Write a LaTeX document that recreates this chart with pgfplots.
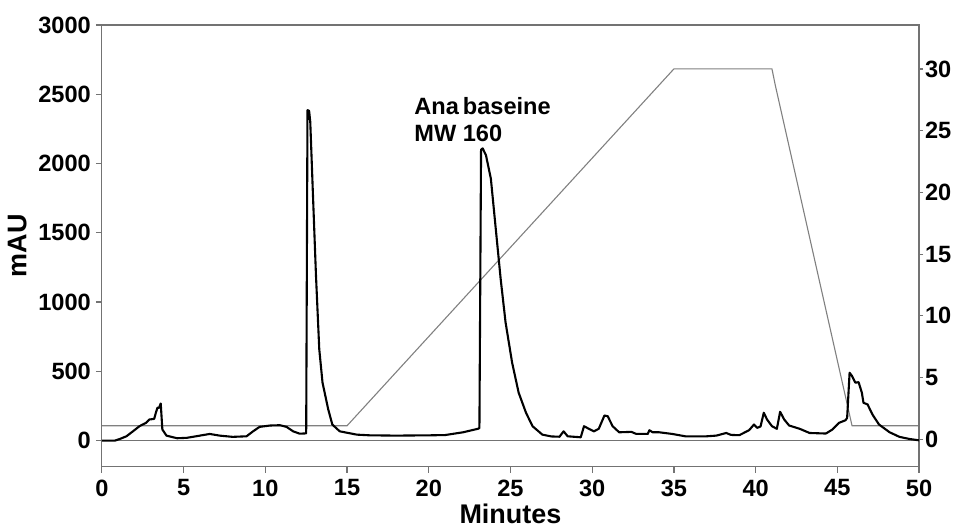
\documentclass[border=0pt]{standalone}
\usepackage{pgfplots}
\pgfplotsset{compat=1.18}
\usepackage{fontspec}
\setmainfont{Liberation Sans}
\definecolor{frame}{gray}{0.45}
\definecolor{grad}{gray}{0.5}
\begin{document}
\begin{tikzpicture}
\pgfplotsset{
  every axis/.append style={
    scale only axis, width=409pt, height=221pt,
    xmin=0, xmax=50,
    axis line style={frame, line width=0.6pt},
    major tick style={frame, line width=0.6pt},
    major tick length=3pt,
    tick align=outside,
    tick label style={font=\fontsize{11.8}{13}\selectfont\bfseries},
    /pgf/number format/assume math mode=true,
    /pgf/number format/set thousands separator={},
  }
}
% gradient (right axis)
\begin{axis}[
    axis x line=none,
    axis y line*=right,
    ymin=-2.2, ymax=33.56,
    ytick={0,5,...,30},
    major tick length=2pt,
    yticklabel style={xshift=-2.5pt},
]
\addplot[grad, line width=0.55pt] coordinates {
  (0,1.1) (15,1.1) (35,30) (41,30) (41.2,28.7) (45.9,1.1) (50,1.1)
};
\end{axis}
% chromatogram (left axis)
\begin{axis}[
    name=ax,
    ymin=-187, ymax=3000,
    ytick={0,500,...,3000},
    xtick={0,5,...,50},
    xtick pos=bottom, ytick pos=left,
    xlabel={Minutes},
    ylabel={mAU},
    label style={font=\fontsize{13.5}{15}\selectfont\bfseries},
    xlabel style={yshift=3pt},
    ylabel style={yshift=-1pt},
    yticklabel style={xshift=1pt},
    clip=false,
]
\addplot[frame, line width=0.5pt] coordinates {(0,0) (50,0)};
\addplot[black, line width=1.05pt, line join=round] coordinates {
  (0,0) (0.8,0) (1.1,12) (1.5,31) (1.9,67) (2.3,104) (2.7,128) (2.9,152)
  (3.2,157) (3.3,200) (3.4,237) (3.5,237) (3.6,268) (3.7,80) (3.95,36)
  (4.6,17) (5.2,20) (6.0,36) (6.6,48) (7.2,36) (8.0,27) (8.85,31) (9.25,67)
  (9.65,99) (10.3,109) (10.9,111) (11.3,99) (11.7,67) (12.1,50) (12.5,52)
  (12.58,2385) (12.68,2380) (12.75,2300) (12.9,1819) (13.1,1190) (13.3,660)
  (13.5,418) (13.85,225) (14.1,116) (14.55,67) (15.6,43) (16.4,38) (18,36)
  (20,38) (21,40) (22.1,60) (23.0,85) (23.1,90) (23.2,2100) (23.3,2109)
  (23.5,2060) (23.8,1891) (24.1,1529) (24.4,1167) (24.7,853) (25.1,563)
  (25.5,346) (25.95,201) (26.35,104) (26.95,43) (27.5,30) (28.0,28)
  (28.25,67) (28.5,31) (29.3,24) (29.5,104) (29.8,85) (30.1,67) (30.4,85)
  (30.75,181) (30.95,176) (31.25,104) (31.65,60) (32.4,63) (32.7,48)
  (33.4,48) (33.5,75) (33.7,60) (34.1,60) (34.9,48) (35.7,31) (37.0,31)
  (37.6,36) (38.2,55) (38.5,41) (39.0,39) (39.6,75) (39.9,116) (40.1,92)
  (40.3,102) (40.5,201) (40.7,152) (41.0,104) (41.3,85) (41.5,208)
  (41.75,152) (42.05,109) (42.7,85) (43.3,55) (44.3,51) (44.7,80)
  (45.1,128) (45.5,147) (45.6,164) (45.75,490) (45.9,466) (46.1,418)
  (46.3,422) (46.5,346) (46.6,273) (46.85,261) (47.15,188) (47.55,116)
  (48.2,60) (48.8,27) (49.4,12) (50,2)
};
\node[anchor=north west, align=left, inner sep=0pt,
      font=\fontsize{11.8}{13.5}\selectfont\bfseries]
  at (axis cs:19.1,2480) {Ana\hspace{2pt}baseine\\MW 160};
\end{axis}
\pgfresetboundingbox
\path ([shift={(-51pt,-30pt)}]ax.south west) rectangle ([shift={(17pt,12.5pt)}]ax.north east);
\end{tikzpicture}
\end{document}
